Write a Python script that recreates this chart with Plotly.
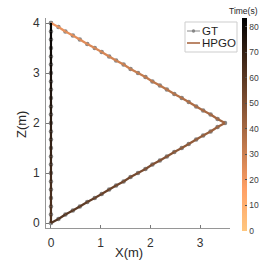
import plotly.graph_objects as go
from plotly.colors import sample_colorscale

gt_x = [0.00, 0.15, 0.29, 0.44, 0.58, 0.73, 0.88, 1.02, 1.17, 1.31, 1.46, 1.60, 1.75,
        1.90, 2.04, 2.19, 2.33, 2.48, 2.63, 2.77, 2.92, 3.06, 3.21, 3.35, 3.50,
        3.35, 3.21, 3.06, 2.92, 2.77, 2.63, 2.48, 2.33, 2.19, 2.04, 1.90, 1.75,
        1.60, 1.46, 1.31, 1.17, 1.02, 0.88, 0.73, 0.58, 0.44, 0.29, 0.15, 0.00,
        0.00, 0.00, 0.00, 0.00, 0.00, 0.00, 0.00, 0.00, 0.00, 0.00, 0.00, 0.00,
        0.00, 0.00, 0.00, 0.00, 0.00, 0.00, 0.00, 0.00, 0.00, 0.00, 0.00, 0.00]
gt_z = [4.00, 3.92, 3.83, 3.75, 3.67, 3.58, 3.50, 3.42, 3.33, 3.25, 3.17, 3.08, 3.00,
        2.92, 2.83, 2.75, 2.67, 2.58, 2.50, 2.42, 2.33, 2.25, 2.17, 2.08, 2.00,
        1.92, 1.83, 1.75, 1.67, 1.58, 1.50, 1.42, 1.33, 1.25, 1.17, 1.08, 1.00,
        0.92, 0.83, 0.75, 0.67, 0.58, 0.50, 0.42, 0.33, 0.25, 0.17, 0.08, 0.00,
        0.17, 0.33, 0.50, 0.67, 0.83, 1.00, 1.17, 1.33, 1.50, 1.67, 1.83, 2.00,
        2.17, 2.33, 2.50, 2.67, 2.83, 3.00, 3.17, 3.33, 3.50, 3.67, 3.83, 4.00]
gt_t = [21.0, 21.9, 22.7, 23.6, 24.4, 25.3, 26.2, 27.0, 27.9, 28.8, 29.6, 30.5, 31.3,
        32.2, 33.1, 33.9, 34.8, 35.6, 36.5, 37.4, 38.2, 39.1, 39.9, 40.8, 41.7,
        42.5, 43.4, 44.2, 45.1, 46.0, 46.8, 47.7, 48.6, 49.4, 50.3, 51.1, 52.0,
        52.9, 53.7, 54.6, 55.4, 56.3, 57.2, 58.0, 58.9, 59.7, 60.6, 61.5, 62.3,
        63.2, 64.1, 64.9, 65.8, 66.6, 67.5, 68.4, 69.2, 70.1, 70.9, 71.8, 72.7,
        73.5, 74.4, 75.2, 76.1, 77.0, 77.8, 78.7, 79.5, 80.4, 81.3, 82.1, 83.0]

# HPGO estimate (overlaps the ground truth in the picture)
hpgo_x = list(gt_x)
hpgo_z = list(gt_z)
hpgo_t = list(gt_t)

assert len(gt_x) == len(gt_z) == len(gt_t)

t_min, t_max = 0.0, 83.4
cbar_ticks = [0, 10, 20, 30, 40, 50, 60, 70, 80]
x_ticks = [0, 1, 2, 3]
z_ticks = [0, 1, 2, 3, 4]
legend_names = ['GT', 'HPGO']

GT_COLOR = 'rgb(135,135,135)'
HPGO_LEGEND_COLOR = 'rgb(165,95,55)'

# reversed MATLAB "copper"
copper_r = [[0.0, 'rgb(255,199,127)'], [0.2, 'rgb(255,159,101)'],
            [0.4, 'rgb(191,120,76)'], [0.6, 'rgb(128,80,51)'],
            [0.8, 'rgb(64,40,25)'], [1.0, 'rgb(0,0,0)']]

FONT = "Liberation Sans, Arial, sans-serif"
W, H = 266, 266
ML, MR, MT, MB = 46, 36, 18, 38
PW, PH = W - ML - MR, H - MT - MB


def px(xpix):
    return (xpix - ML) / PW


def py(ypix):
    return (H - MB - ypix) / PH


fig = go.Figure()

# GT: grey line with markers (underneath)
fig.add_trace(go.Scatter(x=gt_x, y=gt_z, mode='lines+markers', name='GT', showlegend=False,
                         line=dict(color=GT_COLOR, width=1),
                         marker=dict(color=GT_COLOR, size=4.5)))

# HPGO: line coloured by time, one segment per sample interval
for i in range(len(hpgo_x) - 1):
    tm = 0.5 * (hpgo_t[i] + hpgo_t[i + 1])
    c = sample_colorscale(copper_r, [(tm - t_min) / (t_max - t_min)])[0]
    fig.add_trace(go.Scatter(x=hpgo_x[i:i + 2], y=hpgo_z[i:i + 2], mode='lines',
                             line=dict(color=c, width=2.2), showlegend=False,
                             hoverinfo='skip'))

# colour bar carrier
fig.add_trace(go.Scatter(
    x=[hpgo_x[0]], y=[hpgo_z[0]], mode='markers', showlegend=False, hoverinfo='skip',
    marker=dict(size=0.1, color=[hpgo_t[0]], colorscale=copper_r, cmin=t_min, cmax=t_max,
                showscale=True,
                colorbar=dict(thickness=5, len=213, lenmode='pixels',
                              x=px(242), xanchor='left', xpad=0,
                              y=py(124.5), yanchor='middle', ypad=0,
                              outlinewidth=0, tickvals=cbar_ticks,
                              ticks='inside', ticklen=2, tickcolor='rgb(80,80,80)',
                              tickfont=dict(size=8.5, color='rgb(60,60,60)', family=FONT)))))

axis_common = dict(showgrid=False, zeroline=False, showline=True, automargin=False,
                   linecolor='rgb(150,150,150)', linewidth=1,
                   ticks='inside', ticklen=3, tickcolor='rgb(120,120,120)',
                   tickfont=dict(size=12, color='rgb(50,50,50)', family=FONT),
                   mirror=False)

# manual MATLAB-style legend box
shapes = [
    dict(type='rect', xref='paper', yref='paper', x0=px(185), x1=px(237), y0=py(52), y1=py(22),
         line=dict(color='rgb(205,205,205)', width=1), fillcolor='white', layer='above'),
    dict(type='line', xref='paper', yref='paper', x0=px(187), x1=px(200), y0=py(31), y1=py(31),
         line=dict(color=GT_COLOR, width=1), layer='above'),
    dict(type='circle', xref='paper', yref='paper', x0=px(191.8), x1=px(195.2),
         y0=py(32.7), y1=py(29.3), line=dict(color=GT_COLOR, width=0), fillcolor=GT_COLOR,
         layer='above'),
    dict(type='line', xref='paper', yref='paper', x0=px(187), x1=px(200), y0=py(43), y1=py(43),
         line=dict(color=HPGO_LEGEND_COLOR, width=1.5), layer='above'),
]
annotations = [
    dict(text=legend_names[0], xref='paper', yref='paper', x=px(201), y=py(31),
         xanchor='left', yanchor='middle', showarrow=False, borderpad=0,
         font=dict(size=11.5, color='rgb(30,30,30)', family=FONT)),
    dict(text=legend_names[1], xref='paper', yref='paper', x=px(201), y=py(43),
         xanchor='left', yanchor='middle', showarrow=False, borderpad=0,
         font=dict(size=11.5, color='rgb(30,30,30)', family=FONT)),
    dict(text='Time(s)', xref='paper', yref='paper', x=px(244), y=py(11),
         xanchor='center', yanchor='middle', showarrow=False,
         font=dict(size=8.5, color='rgb(30,30,30)', family=FONT)),
    dict(text='X(m)', xref='paper', yref='paper', x=px(129), y=py(252),
         xanchor='center', yanchor='middle', showarrow=False,
         font=dict(size=13, color='rgb(40,40,40)', family=FONT)),
    dict(text='Z(m)', xref='paper', yref='paper', x=px(21), y=py(125),
         xanchor='center', yanchor='middle', showarrow=False, textangle=-90,
         font=dict(size=13, color='rgb(40,40,40)', family=FONT)),
]

fig.update_layout(
    width=W, height=H,
    margin=dict(l=ML, r=MR, t=MT, b=MB, autoexpand=False),
    paper_bgcolor='white', plot_bgcolor='white',
    font=dict(family=FONT),
    xaxis=dict(range=[-0.1, 3.6], tickvals=x_ticks, ticklabelstandoff=4, **axis_common),
    yaxis=dict(range=[-0.1, 4.1], tickvals=z_ticks, ticklabelstandoff=3, **axis_common),
    shapes=shapes, annotations=annotations,
    showlegend=False,
)

fig.write_html("out.html", config={'displayModeBar': False},
               post_script="document.body.style.margin='0';document.body.style.overflow='hidden';")
